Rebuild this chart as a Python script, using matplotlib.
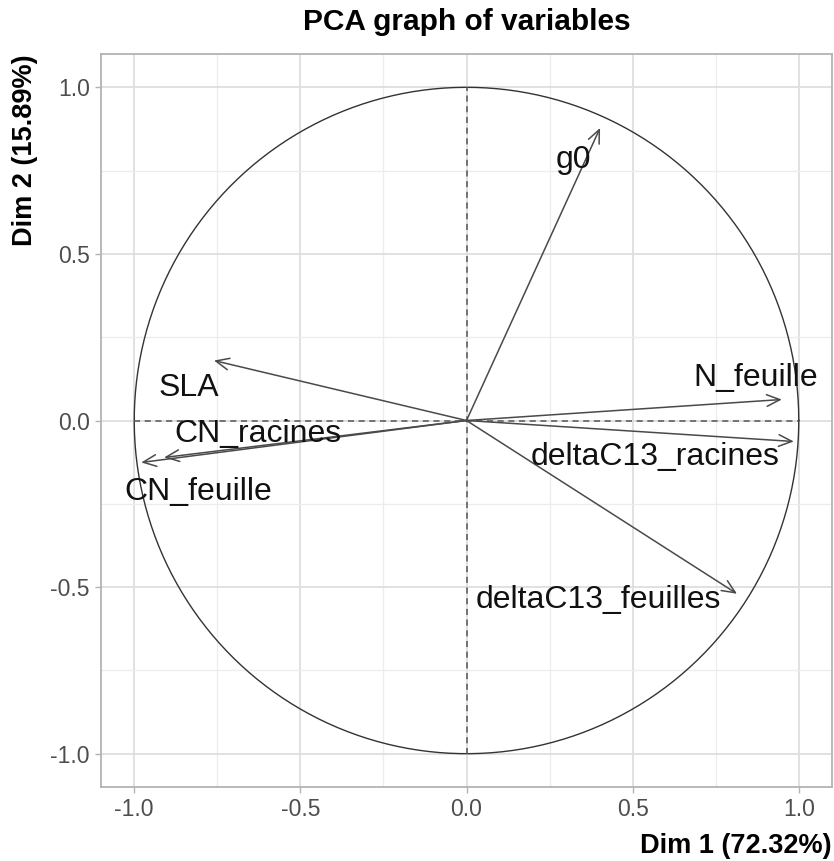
import numpy as np
import matplotlib.pyplot as plt
from matplotlib.ticker import MultipleLocator

# variable coordinates on Dim 1 / Dim 2
variables = ["g0", "N_feuille", "deltaC13_racines", "deltaC13_feuilles",
             "SLA", "CN_racines", "CN_feuille"]
dim1 = [0.402, 0.949, 0.985, 0.814, -0.760, -0.910, -0.979]
dim2 = [0.878, 0.063, -0.063, -0.520, 0.180, -0.111, -0.126]

# label positions (as placed in the original)
label_x = [0.321, 0.871, 0.568, 0.396, -0.835, -0.628, -0.808]
label_y = [0.782, 0.129, -0.111, -0.538, 0.099, -0.042, -0.214]

ticks = [-1.0, -0.5, 0.0, 0.5, 1.0]
tick_labels = ["-1.0", "-0.5", "0.0", "0.5", "1.0"]

plt.rcParams['font.family'] = ['Liberation Sans', 'DejaVu Sans']

fig = plt.figure(figsize=(8.34, 8.61), dpi=100)
ax = fig.add_axes([101 / 834, 1 - 787 / 861, 731 / 834, 733 / 861])

ax.set_xlim(-1.1, 1.1)
ax.set_ylim(-1.1, 1.1)

# grid like theme_light
ax.xaxis.set_minor_locator(MultipleLocator(0.25))
ax.yaxis.set_minor_locator(MultipleLocator(0.25))
ax.grid(which='major', color='#dedede', lw=1.3, zorder=0)
ax.grid(which='minor', color='#ececec', lw=0.9, zorder=0)
ax.set_axisbelow(True)
ax.tick_params(which='minor', length=0)
ax.tick_params(which='major', length=4, color='#b3b3b3', width=1,
               labelsize=16.5, labelcolor='#4d4d4d', pad=4)
ax.set_xticks(ticks)
ax.set_xticklabels(tick_labels)
ax.set_yticks(ticks)
ax.set_yticklabels(tick_labels)
for sp in ax.spines.values():
    sp.set_color('#b3b3b3')
    sp.set_linewidth(1.3)

# unit circle and dashed axes
t = np.linspace(0, 2 * np.pi, 400)
ax.plot(np.cos(t), np.sin(t), color='#333333', lw=1.0, zorder=2)
ax.plot([-1, 1], [0, 0], color='#555555', lw=1.1, ls=(0, (4, 3)), zorder=2)
ax.plot([0, 0], [-1, 1], color='#555555', lw=1.1, ls=(0, (4, 3)), zorder=2)

# arrows
for x, y in zip(dim1, dim2):
    ax.annotate("", xy=(x, y), xytext=(0, 0),
                arrowprops=dict(arrowstyle="->,head_length=0.95,head_width=0.42",
                                color='#4a4a4a', lw=1.1,
                                shrinkA=0, shrinkB=0), zorder=3)

for name, lx, ly in zip(variables, label_x, label_y):
    ax.text(lx, ly, name, fontsize=23, color='#111111',
            ha='center', va='center', zorder=4)

fig.text((101 + 832) / 2 / 834, 1 - 22 / 861, "PCA graph of variables",
         fontsize=21.5, fontweight='bold', ha='center', va='center')
fig.text(832 / 834, 1 - 846 / 861, "Dim 1 (72.32%)", fontsize=19.5,
         fontweight='bold', ha='right', va='center')
fig.text(25 / 834, 1 - 54 / 861, "Dim 2 (15.89%)", fontsize=19.5,
         fontweight='bold', ha='center', va='top', rotation=90)

fig.savefig("out.png", dpi=100)
